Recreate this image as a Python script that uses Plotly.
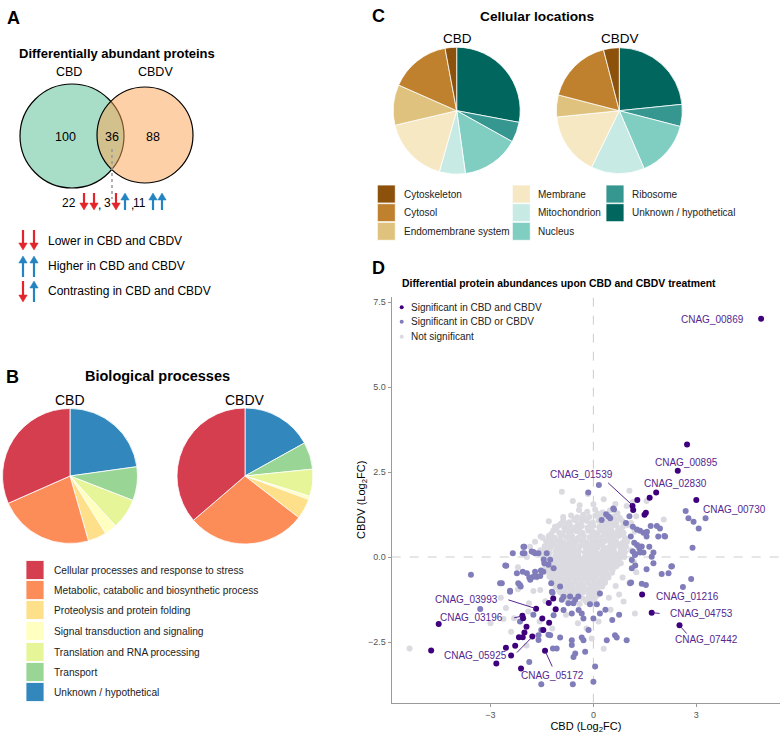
import plotly.graph_objects as go

W, H = 780, 734
def px(x): return x / W
def py(y): return 1 - y / H

FONT = "Liberation Sans, Arial, sans-serif"

# ---------------- DATA ----------------
venn_sets = ["CBD", "CBDV"]
venn_counts = [100, 36, 88]          # only CBD, shared, only CBDV
shared_split = [22, 3, 11]           # down-down, contrasting, up-up

bio_categories = ["Cellular processes and response to stress",
                  "Metabolic, catabolic and biosynthetic process",
                  "Proteolysis and protein folding",
                  "Signal transduction and signaling",
                  "Translation and RNA processing",
                  "Transport",
                  "Unknown / hypothetical"]
bio_colors = ["#d53e4f", "#fc8d59", "#fee08b", "#ffffbf", "#e6f598", "#99d594", "#3288bd"]
bio_cbd = [43, 31, 6, 4, 10, 11, 31]
bio_cbdv = [45, 35, 6, 1, 8, 8, 21]

loc_categories = ["Cytoskeleton", "Cytosol", "Endomembrane system", "Membrane",
                  "Mitochondrion", "Nucleus", "Ribosome", "Unknown / hypothetical"]
loc_colors = ["#8c510a", "#bf812d", "#dfc27d", "#f6e8c3", "#c7eae5", "#80cdc1", "#35978f", "#01665e"]
loc_cbd = [4, 21, 14, 23, 9, 20, 7, 38]
loc_cbdv = [5, 21, 7, 20, 17, 18, 7, 29]

# Panel D: log2 fold changes (CBD, CBDV)
gray_points = [
    (-0.42,1.38),(-0.18,1.33),(0.05,1.40),(0.27,1.31),(0.48,1.37),(0.70,1.29),
    (-0.65,1.22),(-0.47,1.17),(-0.30,1.24),(-0.12,1.18),(0.06,1.21),(0.22,1.16),(0.40,1.23),(0.58,1.19),(0.77,1.15),
    (-0.88,1.07),(-0.70,1.02),(-0.53,1.08),(-0.36,1.03),(-0.19,1.06),(-0.02,1.01),(0.15,1.07),(0.31,1.03),(0.49,1.05),(0.66,1.00),(0.84,1.06),
    (-1.02,0.92),(-0.85,0.87),(-0.68,0.93),(-0.51,0.88),(-0.34,0.91),(-0.17,0.86),(0.00,0.92),(0.17,0.88),(0.34,0.93),(0.51,0.87),(0.68,0.91),(0.86,0.89),(1.00,0.94),
    (-1.17,0.77),(-1.00,0.72),(-0.83,0.78),(-0.66,0.73),(-0.49,0.76),(-0.32,0.71),(-0.15,0.77),(0.02,0.73),(0.19,0.78),(0.36,0.72),(0.53,0.76),(0.70,0.74),(0.88,0.71),
    (-1.30,0.62),(-1.13,0.57),(-0.96,0.63),(-0.79,0.58),(-0.62,0.61),(-0.45,0.56),(-0.28,0.62),(-0.11,0.58),(0.06,0.63),(0.23,0.57),(0.40,0.61),(0.57,0.59),(0.74,0.62),(0.92,0.56),
    (-1.38,0.47),(-1.21,0.42),(-1.04,0.48),(-0.87,0.43),(-0.70,0.46),(-0.53,0.41),(-0.36,0.47),(-0.19,0.43),(-0.02,0.48),(0.15,0.42),(0.32,0.46),(0.49,0.44),(0.66,0.47),(0.84,0.41),(0.98,0.45),
    (-1.42,0.32),(-1.25,0.27),(-1.08,0.33),(-0.91,0.28),(-0.74,0.31),(-0.57,0.26),(-0.40,0.32),(-0.23,0.28),(-0.06,0.33),(0.11,0.27),(0.28,0.31),(0.45,0.29),(0.62,0.32),(0.79,0.26),(0.95,0.30),
    (-1.44,0.17),(-1.27,0.12),(-1.10,0.18),(-0.93,0.13),(-0.76,0.16),(-0.59,0.11),(-0.42,0.17),(-0.25,0.13),(-0.08,0.18),(0.09,0.12),(0.26,0.16),(0.43,0.14),(0.60,0.17),(0.77,0.11),(0.92,0.15),
    (-1.45,0.02),(-1.28,-0.03),(-1.11,0.03),(-0.94,-0.02),(-0.77,0.01),(-0.60,-0.04),(-0.43,0.02),(-0.26,-0.02),(-0.09,0.03),(0.08,-0.03),(0.25,0.01),(0.42,-0.01),(0.59,0.02),(0.76,-0.04),(0.90,0.00),
    (-1.43,-0.13),(-1.26,-0.18),(-1.09,-0.12),(-0.92,-0.17),(-0.75,-0.14),(-0.58,-0.19),(-0.41,-0.13),(-0.24,-0.17),(-0.07,-0.12),(0.10,-0.18),(0.27,-0.14),(0.44,-0.16),(0.61,-0.13),(0.80,-0.18),
    (-1.40,-0.28),(-1.23,-0.33),(-1.06,-0.27),(-0.89,-0.32),(-0.72,-0.29),(-0.55,-0.34),(-0.38,-0.28),(-0.21,-0.32),(-0.04,-0.27),(0.13,-0.33),(0.30,-0.29),(0.47,-0.31),(0.66,-0.28),
    (-1.35,-0.43),(-1.18,-0.48),(-1.01,-0.42),(-0.84,-0.47),(-0.67,-0.44),(-0.50,-0.49),(-0.33,-0.43),(-0.16,-0.47),(0.01,-0.42),(0.18,-0.48),(0.35,-0.44),(0.54,-0.46),
    (-1.28,-0.58),(-1.11,-0.63),(-0.94,-0.57),(-0.77,-0.62),(-0.60,-0.59),(-0.43,-0.64),(-0.26,-0.58),(-0.09,-0.62),(0.08,-0.57),(0.25,-0.63),(0.44,-0.60),
    (-1.20,-0.73),(-1.03,-0.78),(-0.86,-0.72),(-0.69,-0.77),(-0.52,-0.74),(-0.35,-0.79),(-0.18,-0.73),(-0.01,-0.77),(0.16,-0.72),(0.34,-0.76),
    (-1.10,-0.88),(-0.93,-0.93),(-0.76,-0.87),(-0.59,-0.92),(-0.42,-0.89),(-0.25,-0.94),(-0.08,-0.88),(0.09,-0.92),(0.26,-0.87),
    (-0.98,-1.03),(-0.81,-1.08),(-0.64,-1.02),(-0.47,-1.07),(-0.30,-1.04),(-0.13,-1.09),(0.04,-1.03),(0.18,-1.07),
    (-0.82,-1.18),(-0.65,-1.23),(-0.48,-1.17),(-0.31,-1.22),(-0.14,-1.19),(0.03,-1.24),
    (-0.60,-1.33),(-0.40,-1.38),(-0.20,-1.32),(0.00,-1.37),
    (-0.34,1.12),(0.12,1.28),(-0.78,0.97),(0.41,0.97),(-0.58,0.81),(0.28,0.82),(-0.90,0.66),(0.12,0.67),(0.62,0.68),
    (-1.18,0.51),(-0.29,0.52),(0.41,0.52),(-0.98,0.38),(-0.12,0.38),(0.72,0.37),(-1.32,0.22),(-0.50,0.22),(0.35,0.21),
    (-0.85,0.07),(0.16,0.07),(0.68,0.06),(-1.18,-0.08),(-0.34,-0.07),(0.50,-0.08),(-0.98,-0.22),(-0.14,-0.23),(0.36,-0.24),
    (-1.30,-0.37),(-0.63,-0.38),(0.22,-0.38),(-0.92,-0.52),(-0.22,-0.53),(0.40,-0.52),(-1.16,-0.67),(-0.52,-0.68),(0.18,-0.68),
    (-0.95,-0.82),(-0.28,-0.83),(-0.68,-0.97),(-0.03,-0.98),(-0.56,-1.12),(-0.22,-1.28),
    (-0.56,1.12),(-0.21,1.13),(0.30,1.11),(0.66,1.10),(-0.95,0.98),(-0.44,0.96),(-0.09,0.97),(0.25,0.98),(0.58,0.96),(0.93,0.99),
    (-1.09,0.83),(-0.75,0.82),(-0.41,0.83),(-0.07,0.81),(0.44,0.83),(0.78,0.81),
    (-1.23,0.68),(-0.71,0.66),(-0.37,0.68),(-0.03,0.66),(0.31,0.68),(0.49,0.66),(0.83,0.67),
    (-1.30,0.53),(-0.96,0.51),(-0.62,0.52),(-0.45,0.50),(0.06,0.53),(0.23,0.51),(0.57,0.52),(0.91,0.50),
    (-1.33,0.38),(-1.16,0.36),(-0.82,0.38),(-0.65,0.36),(-0.31,0.37),(0.03,0.36),(0.20,0.38),(0.54,0.37),(0.88,0.36),
    (-1.35,0.23),(-1.01,0.21),(-0.84,0.23),(-0.67,0.21),(-0.15,0.22),(0.01,0.23),(0.52,0.21),(0.86,0.22),
    (-1.37,0.08),(-1.02,0.06),(-0.68,0.08),(-0.51,0.06),(-0.17,0.08),(0.00,0.06),(0.34,0.08),(0.51,0.06),(0.84,0.08),
    (-1.36,-0.07),(-1.02,-0.09),(-0.85,-0.07),(-0.68,-0.09),(-0.51,-0.07),(-0.17,-0.09),(0.01,-0.07),(0.18,-0.09),(0.35,-0.07),(0.68,-0.09),
    (-1.33,-0.21),(-1.15,-0.23),(-0.81,-0.21),(-0.64,-0.23),(-0.47,-0.21),(-0.30,-0.23),(0.04,-0.21),(0.21,-0.22),(0.53,-0.21),(0.70,-0.23),
    (-1.13,-0.36),(-0.97,-0.38),(-0.80,-0.36),(-0.46,-0.36),(-0.29,-0.38),(-0.12,-0.36),(0.05,-0.38),(0.39,-0.36),(0.56,-0.38),
    (-1.23,-0.51),(-1.06,-0.53),(-0.75,-0.51),(-0.58,-0.53),(-0.41,-0.51),(-0.07,-0.51),(0.10,-0.53),(0.27,-0.51),
    (-1.03,-0.66),(-0.86,-0.68),(-0.69,-0.66),(-0.35,-0.66),(-0.18,-0.68),(0.00,-0.66),(0.33,-0.67),
    (-1.12,-0.81),(-0.78,-0.83),(-0.61,-0.81),(-0.44,-0.82),(-0.10,-0.81),(0.07,-0.83),(0.22,-0.81),
    (-1.01,-0.96),(-0.85,-0.98),(-0.51,-0.96),(-0.34,-0.98),(-0.17,-0.96),(0.12,-0.97),
    (-0.90,-1.11),(-0.73,-1.13),(-0.39,-1.11),(-0.05,-1.12),(0.10,-1.14),(-0.74,-1.26),(-0.56,-1.28),(-0.05,-1.29),
    (-5.36,-2.69),(-0.92,1.92),(-0.16,1.85),(1.05,1.95),(0.64,1.56),(0.97,1.50),(-0.40,1.52),(-0.88,1.18),
    (-1.54,0.60),(-2.01,0.30),(-1.85,0.30),(-2.31,-1.80),(-1.88,-1.36),(-1.57,-1.90),(-1.94,0.00),(-1.55,-0.97),
    (1.21,-1.66),(0.88,-1.31),(-1.12,0.89),(-1.48,0.57),(1.25,1.20),(1.15,1.62),(0.30,1.70),(-0.60,1.65),
    (-1.30,1.05),(-1.70,0.45),(-2.20,-0.30),(-1.75,-1.00),(-1.40,-1.30),(-1.10,-1.55),(-0.80,-1.70),(-0.45,-1.95),
    (-0.20,-2.10),(0.15,-1.90),(0.50,-1.55),(0.75,-1.10),(1.05,-0.75),(1.25,-0.45),(1.30,0.35),(1.20,0.75),
    (1.10,1.00),(0.45,-1.20),(-2.55,-1.50),(-2.70,-1.20),(-3.00,-1.95),(-2.40,-2.20),(-1.95,-2.60),(-1.20,-2.10),
    (0.30,-2.70),(-0.05,-2.40),(1.55,1.65),(2.05,1.10),(0.00,1.55),(-1.65,-0.60),(-1.55,0.20),(1.10,0.20),
    (1.18,-0.15),(0.85,-0.60),(0.65,-0.85),(-2.62,-1.82),(-2.20,-0.95),(-1.90,-1.60),
]
light_points = [
    (0.16,2.12),(-0.15,1.90),(0.60,1.40),(0.58,1.43),(0.37,1.26),(0.44,1.19),(0.49,1.14),(0.24,1.09),
    (1.15,0.89),(1.27,0.81),(1.36,0.77),(1.46,0.71),(1.56,0.74),(1.85,0.91),(1.94,0.84),(2.09,0.60),
    (1.09,0.60),(1.19,0.42),(1.27,0.35),(1.34,0.26),(1.15,0.16),(1.22,0.09),(1.46,0.13),(1.63,0.30),
    (1.75,0.13),(1.70,0.01),(1.12,-0.09),(1.22,-0.25),(1.75,-0.18),(1.99,-0.50),(2.19,-0.48),(2.29,-0.27),
    (1.41,-0.79),(1.10,-0.75),(1.12,-0.33),(1.67,0.91),(1.89,0.60),(2.07,0.62),(1.55,0.60),(1.41,0.31),
    (1.36,0.13),(1.21,0.06),(1.55,-0.36),(1.53,-0.82),(1.07,-0.77),(1.05,1.20),(0.95,1.00),
    (2.69,1.35),(2.77,1.14),(2.92,1.04),(3.07,0.84),(3.27,1.14),(2.89,0.27),(2.85,-0.65),(2.61,-0.88),(2.27,-0.28),
    (-3.57,-0.52),(-3.30,-1.53),(-2.72,-0.77),(-2.54,-0.26),(-2.43,-0.99),(-2.35,0.11),(-2.19,-0.77),(-2.12,-0.87),
    (-2.06,-0.43),(-2.06,0.11),(-1.87,-0.60),(-1.80,0.16),(-1.70,0.11),(-1.60,0.11),(-1.65,-0.58),(-1.46,-0.43),
    (-1.31,-0.23),(-1.26,-0.08),(-2.14,-1.90),(-1.75,-1.70),(-1.60,-2.44),(-1.52,-2.15),(-1.31,-2.29),(-1.18,-2.69),
    (-1.07,-2.69),(-1.87,-3.09),(-1.52,-3.74),(-0.60,-3.74),(-2.02,0.30),(-1.75,0.15),(-1.36,0.11),(-1.43,-0.18),
    (-1.53,-0.40),(-1.75,-0.58),(-2.43,-1.02),(-2.67,-0.77),(-1.16,-0.33),(-1.21,-1.02),(-0.97,-0.87),
    (-0.92,-1.26),(-0.68,-1.16),(-0.58,-1.36),(-0.44,-1.16),(-0.87,-1.56),(-0.63,-1.66),(-0.34,-1.66),(-0.29,-1.81),
    (-0.10,-1.39),(0.10,-1.39),(0.19,-1.66),(0.00,-1.81),(-1.16,-1.71),(-1.60,-2.30),(-1.26,-2.30),(-0.97,-2.37),
    (-0.63,-2.45),(-0.34,-2.37),(-0.63,-2.59),(-0.29,-2.45),(-0.53,-2.84),(-0.24,-2.79),(-0.58,-2.94),(0.05,-3.22),
    (0.00,-3.67),(0.39,-2.45),(0.63,-2.30),(0.68,-2.37),(0.97,-2.45),(-0.14,-2.15),(0.19,-1.07),
    (-2.57,-0.25),(-2.23,-0.48),(-1.94,-0.48),(-1.84,-0.67),(-1.70,-0.43),(-1.55,-0.56),(-2.14,-0.82),(-1.23,-0.77),
    (-1.19,-1.05),(-2.04,0.30),(-2.01,0.11),(-1.45,-0.07),(-0.87,-1.17),(-0.73,-1.36),(-0.53,-1.26),(-0.43,-1.56),
    (0.35,-1.55),(0.55,-1.85),(0.75,-1.70),
]
dark_points = [
    (4.89,7.01),(2.73,3.31),(2.46,2.54),(1.83,1.90),(1.64,1.74),(1.28,1.68),(1.14,1.50),(1.16,1.38),
    (1.53,1.30),(1.49,1.24),(3.00,1.68),(1.42,-1.10),(1.70,-1.64),(2.51,-2.01),
    (-4.51,-1.97),(-4.73,-2.75),(-2.83,-3.13),(-2.55,-2.67),(-2.28,-2.61),(-2.17,-2.36),(-2.06,-2.36),
    (-2.01,-2.22),(-1.78,-2.34),(-2.11,-3.28),(-1.41,-2.76),(-2.07,-1.73),(-2.05,-1.80),(-1.67,-1.52),
    (-1.49,-1.81),(-1.46,-2.15),(-1.29,-1.93),(-1.17,-1.22),(-1.10,-1.54),(-1.95,-2.05),(-1.30,-1.35),(-2.40,-2.90),
]
# labels: (name, label x, label y, anchor, segment start, segment end)
gene_labels = [
    ("CNAG_00869", 4.45, 7.00, "right", None, None),
    ("CNAG_00895", 2.72, 2.79, "center", None, None),
    ("CNAG_02830", 2.38, 2.15, "center", None, None),
    ("CNAG_01539", -0.34, 2.44, "center", (0.43, 2.18), (1.13, 1.53)),
    ("CNAG_00730", 4.10, 1.41, "center", None, None),
    ("CNAG_01216", 2.75, -1.17, "center", None, None),
    ("CNAG_04753", 3.14, -1.66, "center", (1.74, -1.64), (1.93, -1.66)),
    ("CNAG_07442", 3.29, -2.44, "center", (2.55, -2.06), (2.72, -2.25)),
    ("CNAG_03993", -3.71, -1.26, "center", (-2.48, -1.26), (-1.70, -1.51)),
    ("CNAG_03196", -3.55, -1.79, "center", (-2.31, -1.79), (-2.10, -1.74)),
    ("CNAG_05925", -3.43, -2.91, "center", (-2.23, -2.81), (-1.80, -2.37)),
    ("CNAG_05172", -1.18, -3.48, "center", (-1.39, -2.80), (-1.20, -3.22)),
]
sig_names = ["Significant in CBD and CBDV", "Significant in CBD or CBDV", "Not significant"]
sig_colors = ["#3f007d", "#807dba", "#dadae0"]

fig = go.Figure()

# ---------- Panel B / C pies (slices run counter-clockwise from 12 o'clock) ----------
def pie(values, labels, colors, cx, cy, r):
    return go.Pie(values=values[::-1], labels=labels[::-1], sort=False, direction="clockwise",
                  rotation=0, textinfo="none", showlegend=False,
                  marker=dict(colors=colors[::-1], line=dict(color="white", width=0.8)),
                  domain=dict(x=[px(cx - r), px(cx + r)], y=[py(cy + r), py(cy - r)]))

fig.add_trace(pie(bio_cbd, bio_categories, bio_colors, 70, 476, 67.5))
fig.add_trace(pie(bio_cbdv, bio_categories, bio_colors, 245, 476, 68))
fig.add_trace(pie(loc_cbd, loc_categories, loc_colors, 456.7, 110.7, 63.5))
fig.add_trace(pie(loc_cbdv, loc_categories, loc_colors, 619.3, 110.7, 63))

# ---------- Panel D scatter ----------
for pts, name, col in [(gray_points, sig_names[2], sig_colors[2]),
                       (light_points, sig_names[1], sig_colors[1]),
                       (dark_points, sig_names[0], sig_colors[0])]:
    fig.add_trace(go.Scatter(x=[p[0] for p in pts], y=[p[1] for p in pts], mode="markers",
                             name=name, showlegend=False,
                             marker=dict(color=col, size=6, line=dict(width=0))))

shapes = []
annotations = []

def text(x, y, s, size=11, color="black", xanchor="center", yanchor="middle", bold=False, family=FONT, xref="paper", yref="paper"):
    if bold:
        s = "<b>" + s + "</b>"
    annotations.append(dict(x=x if xref != "paper" else px(x), y=y if yref != "paper" else py(y),
                            xref=xref, yref=yref, text=s, showarrow=False,
                            xanchor=xanchor, yanchor=yanchor,
                            font=dict(size=size, color=color, family=family)))

def arrow(x, y_head, y_tail, color):
    d = 1 if y_head > y_tail else -1
    base = y_head - d * 7
    shapes.append(dict(type="line", xref="paper", yref="paper", x0=px(x), x1=px(x),
                       y0=py(y_tail), y1=py(base + d * 1), line=dict(color=color, width=2.2)))
    path = "M {:.5f},{:.5f} L {:.5f},{:.5f} L {:.5f},{:.5f} Z".format(
        px(x), py(y_head), px(x - 4.2), py(base), px(x + 4.2), py(base))
    shapes.append(dict(type="path", xref="paper", yref="paper", path=path,
                       fillcolor=color, line=dict(color=color, width=0.5)))

RED = "#e3242b"
BLUE = "#2484c1"

# ---------- Panel A ----------
text(14, 18, "A", size=18, bold=True)
text(117, 53, "Differentially abundant proteins", size=13, bold=True)
text(69, 72, venn_sets[0], size=12.5)
text(155, 72, venn_sets[1], size=12.5)
shapes.append(dict(type="circle", xref="paper", yref="paper", x0=px(20), x1=px(124), y0=py(188), y1=py(84),
                   fillcolor="#a8dec8", line=dict(color="black", width=1.2), layer="above"))
shapes.append(dict(type="circle", xref="paper", yref="paper", x0=px(97), x1=px(193), y0=py(183), y1=py(87),
                   fillcolor="#fba151", opacity=0.5, line=dict(width=0), layer="above"))
shapes.append(dict(type="circle", xref="paper", yref="paper", x0=px(97), x1=px(193), y0=py(183), y1=py(87),
                   fillcolor="rgba(0,0,0,0)", line=dict(color="black", width=1.2), layer="above"))
text(65, 137, str(venn_counts[0]), size=12.5)
text(112, 137, str(venn_counts[1]), size=12.5)
text(153, 137, str(venn_counts[2]), size=12.5)
shapes.append(dict(type="line", xref="paper", yref="paper", x0=px(112), x1=px(112), y0=py(149), y1=py(199),
                   line=dict(color="#999999", width=1.5, dash="dot")))
text(78, 203, str(shared_split[0]), size=12, xanchor="right")
arrow(84, 210, 193, RED); arrow(94, 210, 193, RED)
text(100, 205, ",", size=12)
text(107, 203, str(shared_split[1]), size=12)
arrow(116, 210, 193, RED); arrow(125, 193, 210, BLUE)
text(132, 205, ",", size=12)
text(148, 203, str(shared_split[2]), size=12, xanchor="right")
arrow(153, 193, 210, BLUE); arrow(162, 193, 210, BLUE)

arrow(23, 250, 230, RED); arrow(34, 250, 230, RED)
text(46, 241, "Lower in CBD and CBDV", size=12, xanchor="left")
arrow(23, 256, 277, BLUE); arrow(34, 256, 277, BLUE)
text(46, 266, "Higher in CBD and CBDV", size=12, xanchor="left")
arrow(23, 302, 281, RED); arrow(34, 281, 302, BLUE)
text(46, 291, "Contrasting in CBD and CBDV", size=12, xanchor="left")

# ---------- Panel B ----------
text(12, 377, "B", size=18, bold=True)
text(157, 376, "Biological processes", size=14.5, bold=True)
text(70, 400, "CBD", size=14)
text(245, 400, "CBDV", size=14)
b_rows = [570, 590, 610, 631, 652, 672, 692]
for yc, lab, col in zip(b_rows, bio_categories, bio_colors):
    shapes.append(dict(type="rect", xref="paper", yref="paper", x0=px(26), x1=px(44), y0=py(yc + 9.5), y1=py(yc - 9.5),
                       fillcolor=col, line=dict(color="white", width=0.8)))
    text(52, yc, lab, size=10.2, color="#222222", xanchor="left")

# ---------- Panel C ----------
text(378, 16, "C", size=18, bold=True)
text(537, 17, "Cellular locations", size=13.7, bold=True)
text(457, 39, "CBD", size=13.5)
text(620, 39, "CBDV", size=13.5)
c_cols = [(377.3, 401.7), (512.3, 536), (606, 630)]
c_rows = [194, 212.7, 231.3]
for i, (lab, col) in enumerate(zip(loc_categories, loc_colors)):
    ci, ri = i // 3, i % 3
    bx, tx = c_cols[ci]
    yc = c_rows[ri]
    shapes.append(dict(type="rect", xref="paper", yref="paper", x0=px(bx), x1=px(bx + 18), y0=py(yc + 9), y1=py(yc - 9),
                       fillcolor=col, line=dict(color="white", width=0.8)))
    text(tx, yc, lab, size=10, color="#222222", xanchor="left")

# ---------- Panel D ----------
text(378, 268, "D", size=18, bold=True)
text(400, 283, "Differential protein abundances upon CBD and CBDV treatment", size=10.4, bold=True, xanchor="left")
for yc, lab, col in zip([307.3, 321.7, 336.7], sig_names, sig_colors):
    shapes.append(dict(type="circle", xref="paper", yref="paper", x0=px(399.7), x1=px(403.7), y0=py(yc + 2), y1=py(yc - 2),
                       fillcolor=col, line=dict(width=0)))
    text(409.3, yc, lab, size=10, color="#222222", xanchor="left")

shapes.append(dict(type="line", xref="x", yref="paper", x0=0, x1=0, y0=py(702.7), y1=py(296.9),
                   line=dict(color="#c0c0c0", width=0.8, dash="dash"), layer="below"))
shapes.append(dict(type="line", xref="paper", yref="y", x0=px(391.7), x1=1, y0=0, y1=0,
                   line=dict(color="#c0c0c0", width=0.8, dash="dash"), layer="below"))

LABEL_COL = "#54278f"
for name, lx, ly, anc, s0, s1 in gene_labels:
    text(lx, ly, name, size=10, color=LABEL_COL, xanchor=anc, xref="x", yref="y")
    if s0 is not None:
        shapes.append(dict(type="line", xref="x", yref="y", x0=s0[0], y0=s0[1], x1=s1[0], y1=s1[1],
                           line=dict(color=LABEL_COL, width=1)))

fig.update_layout(
    width=W, height=H, margin=dict(l=0, r=0, t=0, b=0),
    paper_bgcolor="white", plot_bgcolor="white",
    font=dict(family=FONT),
    showlegend=False,
    shapes=shapes, annotations=annotations,
    xaxis=dict(domain=[px(391.7), 1.0], range=[-5.88, 5.44], showgrid=False, zeroline=False,
               showline=True, linecolor="#9a9a9a", linewidth=1.3, ticks="outside", ticklen=3,
               tickcolor="#9a9a9a", tickvals=[-3, 0, 3], tickfont=dict(size=9, color="#555555"),
               title=dict(text="CBD (Log<sub>2</sub>FC)", font=dict(size=11, color="black"), standoff=0)),
    yaxis=dict(domain=[py(702.7), py(296.9)], range=[-4.285, 7.65], showgrid=False, zeroline=False,
               showline=True, linecolor="#9a9a9a", linewidth=1.3, ticks="outside", ticklen=3,
               tickcolor="#9a9a9a", tickvals=[-2.5, 0, 2.5, 5, 7.5], tickformat=".1f",
               tickfont=dict(size=9, color="#555555"),
               title=dict(text="CBDV (Log<sub>2</sub>FC)", font=dict(size=11, color="black"), standoff=0)),
)

fig.write_html("out.html", config={"displayModeBar": False},
               post_script="document.body.style.margin='0px';document.body.style.overflow='hidden';")
